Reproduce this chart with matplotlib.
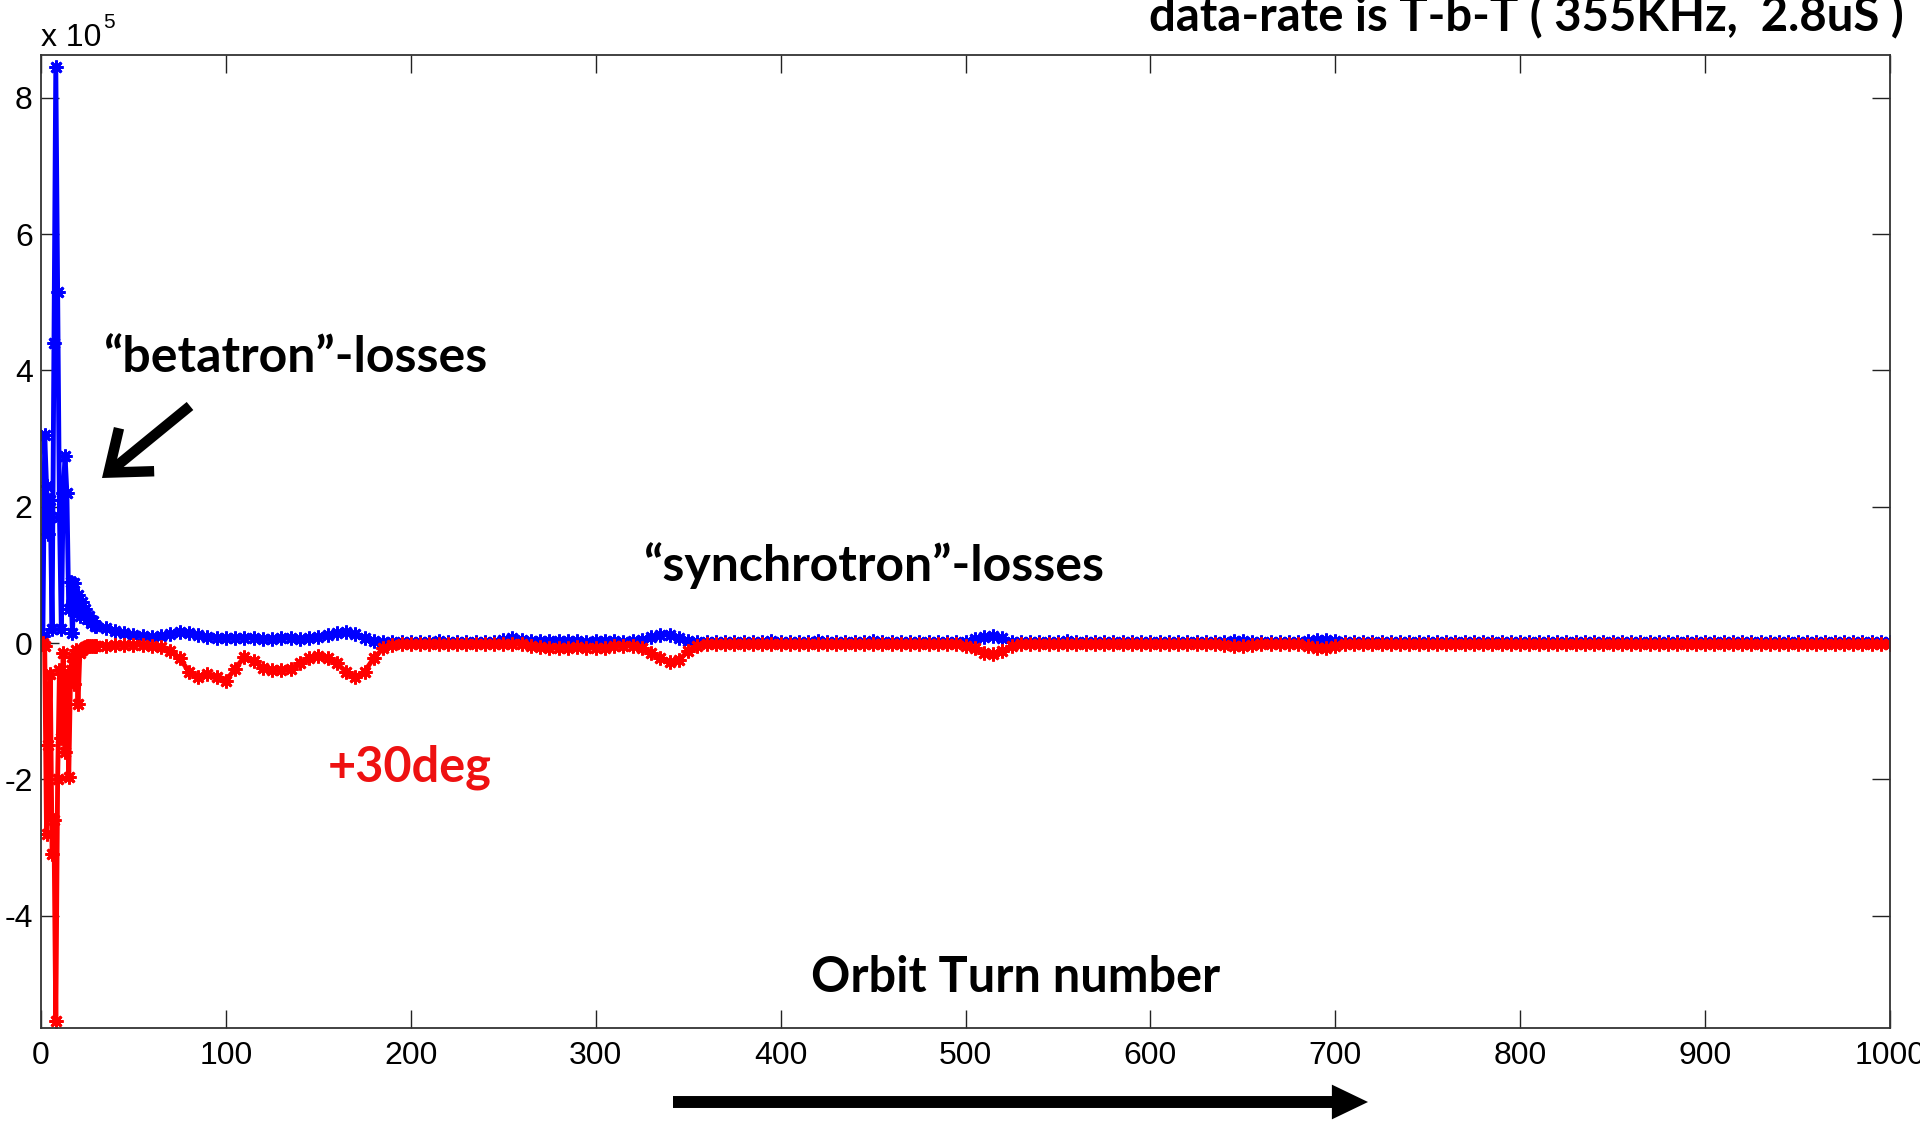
import numpy as np
import matplotlib
matplotlib.use("Agg")
import matplotlib.pyplot as plt
from matplotlib.patches import FancyArrowPatch

# turn numbers: every turn at the start, then every 5th turn
turns_early = np.arange(1, 31)
turns_late = np.arange(35, 1001, 5)

# losses in units of 1e5
blue_early = [0.10, 3.05, 2.30, 1.60, 2.10, 0.20, 4.40, 8.45, 5.15, 1.85,
              0.20, 2.20, 2.75, 2.20, 0.50, 0.90, 0.15, 0.88, 0.50, 0.70,
              0.40, 0.60, 0.45, 0.50, 0.35, 0.40, 0.30, 0.32, 0.25, 0.25]
red_early = [0.00, -0.05, -2.80, -1.50, -0.45, -3.10, -2.60, -5.55, -2.00, -0.40,
             -1.40, -0.15, -1.60, -0.50, -1.96, -0.40, -0.20, -0.60, -0.10, -0.90,
             -0.15, -0.10, -0.08, -0.06, -0.05, -0.04, -0.04, -0.04, -0.04, -0.04]

blue_late = [0.22, 0.18, 0.14, 0.12, 0.10, 0.09, 0.10, 0.13, 0.16, 0.15,
             0.12, 0.09, 0.07, 0.07, 0.08, 0.08, 0.07, 0.06, 0.06, 0.07,
             0.07, 0.06, 0.07, 0.09, 0.12, 0.15, 0.16, 0.13, 0.08, 0.03,
             0.01, 0.02, 0.02, 0.02, 0.02, 0.02, 0.03, 0.02, 0.02, 0.02,
             0.02, 0.02, 0.02, 0.05, 0.07, 0.05, 0.03, 0.03, 0.03, 0.03,
             0.03, 0.03, 0.02, 0.03, 0.03, 0.03, 0.02, 0.03, 0.05, 0.09,
             0.12, 0.12, 0.08, 0.03, 0.01, 0.02, 0.02, 0.02, 0.02, 0.02,
             0.02, 0.02, 0.03, 0.02, 0.02, 0.02, 0.02, 0.03, 0.02, 0.02,
             0.02, 0.02, 0.02, 0.03, 0.02, 0.02, 0.02, 0.02, 0.02, 0.02,
             0.02, 0.02, 0.02, 0.02, 0.06, 0.09, 0.10, 0.07, 0.02, 0.01,
             0.02, 0.02, 0.02, 0.02, 0.03, 0.02, 0.02, 0.02, 0.02, 0.02,
             0.02, 0.02, 0.02, 0.02, 0.02, 0.02, 0.02, 0.02, 0.02, 0.02,
             0.02, 0.02, 0.03, 0.03, 0.02, 0.02, 0.02, 0.02, 0.02, 0.02,
             0.03, 0.05, 0.05, 0.03, 0.02, 0.02, 0.02, 0.02, 0.02, 0.02,
             0.02, 0.02, 0.02, 0.02, 0.02, 0.02, 0.02, 0.02, 0.02, 0.02,
             0.02, 0.02, 0.02, 0.02, 0.02, 0.02, 0.02, 0.02, 0.02, 0.02,
             0.02, 0.02, 0.02, 0.02, 0.02, 0.02, 0.02, 0.02, 0.02, 0.02,
             0.02, 0.02, 0.02, 0.02, 0.02, 0.02, 0.02, 0.02, 0.02, 0.02,
             0.02, 0.02, 0.02, 0.02, 0.02, 0.02, 0.02, 0.02, 0.02, 0.02,
             0.02, 0.02, 0.02, 0.02]
red_late = [-0.04, -0.03, -0.03, -0.03, -0.03, -0.04, -0.06, -0.12, -0.22, -0.42,
            -0.50, -0.45, -0.50, -0.55, -0.38, -0.20, -0.26, -0.36, -0.40, -0.40,
            -0.38, -0.30, -0.22, -0.19, -0.22, -0.30, -0.42, -0.50, -0.42, -0.22,
            -0.08, -0.03, -0.02, -0.02, -0.02, -0.02, -0.02, -0.02, -0.02, -0.02,
            -0.02, -0.02, -0.02, -0.02, -0.02, -0.02, -0.04, -0.06, -0.07, -0.08,
            -0.07, -0.06, -0.07, -0.08, -0.07, -0.05, -0.04, -0.05, -0.08, -0.14,
            -0.22, -0.28, -0.25, -0.12, -0.04, -0.02, -0.02, -0.02, -0.02, -0.02,
            -0.02, -0.02, -0.02, -0.02, -0.02, -0.02, -0.02, -0.02, -0.02, -0.02,
            -0.02, -0.02, -0.02, -0.02, -0.02, -0.02, -0.02, -0.02, -0.02, -0.02,
            -0.02, -0.02, -0.02, -0.04, -0.08, -0.14, -0.16, -0.12, -0.05, -0.02,
            -0.02, -0.02, -0.02, -0.02, -0.02, -0.02, -0.02, -0.02, -0.02, -0.02,
            -0.02, -0.02, -0.02, -0.02, -0.02, -0.02, -0.02, -0.02, -0.02, -0.02,
            -0.02, -0.03, -0.05, -0.05, -0.03, -0.02, -0.02, -0.02, -0.02, -0.02,
            -0.05, -0.08, -0.08, -0.05, -0.02, -0.02, -0.02, -0.02, -0.02, -0.02,
            -0.02, -0.02, -0.02, -0.02, -0.02, -0.02, -0.02, -0.02, -0.02, -0.02,
            -0.02, -0.02, -0.02, -0.02, -0.02, -0.02, -0.02, -0.02, -0.02, -0.02,
            -0.02, -0.02, -0.02, -0.02, -0.02, -0.02, -0.02, -0.02, -0.02, -0.02,
            -0.02, -0.02, -0.02, -0.02, -0.02, -0.02, -0.02, -0.02, -0.02, -0.02,
            -0.02, -0.02, -0.02, -0.02, -0.02, -0.02, -0.02, -0.02, -0.02, -0.02,
            -0.02, -0.02, -0.02, -0.02]

x_ticks = [0, 100, 200, 300, 400, 500, 600, 700, 800, 900, 1000]
y_ticks = [-4, -2, 0, 2, 4, 6, 8]

turns = np.concatenate([turns_early, turns_late])
blue = np.array(blue_early + blue_late) * 1e5
red = np.array(red_early + red_late) * 1e5

fig = plt.figure(figsize=(19.2, 11.21), dpi=100)
ax = fig.add_axes([41 / 1920, 1 - 1028 / 1121, 1849 / 1920, (1028 - 55) / 1121])

star = (8, 2, 0)
ax.plot(turns, blue, color='#0000ff', lw=3.5, marker=star, ms=10, mew=2)
ax.plot(turns, red, color='#ff0000', lw=3.5, marker=star, ms=10, mew=2)

ax.set_xlim(0, 1000)
ax.set_ylim(-5.65e5, 8.63e5)
ax.set_xticks(x_ticks)
ax.set_yticks([v * 1e5 for v in y_ticks])
ax.set_xticklabels([str(v) for v in x_ticks])
ax.set_yticklabels([str(v) for v in y_ticks])
ax.tick_params(direction='in', length=13, width=1, top=True, right=True,
               labelsize=23, color='#222222')
ax.tick_params(axis='x', pad=9)
ax.tick_params(axis='y', pad=6)
for lbl in ax.get_xticklabels() + ax.get_yticklabels():
    lbl.set_family('Liberation Sans')
for s in ax.spines.values():
    s.set_color('#333333')
    s.set_linewidth(1.3)

# exponent label like matlab
ax.text(0.0, 1.002, 'x 10', transform=ax.transAxes, ha='left', va='bottom',
        fontsize=23, family='Liberation Sans')
ax.text(0.0335, 1.024, '5', transform=ax.transAxes, ha='left', va='bottom',
        fontsize=15, family='Liberation Sans')

bold = dict(family=['Lato', 'DejaVu Sans'], fontweight='bold')
fig.text(1904 / 1920, 1 - 31 / 1121, 'data-rate is T-b-T ( 355KHz,  2.8uS )',
         ha='right', va='baseline', fontsize=34, **bold)
fig.text(103 / 1920, 1 - 358 / 1121, '\u201cbetatron\u201d-losses',
         ha='left', va='center', fontsize=36, **bold)
fig.text(643 / 1920, 1 - 566 / 1121, '\u201csynchrotron\u201d-losses',
         ha='left', va='center', fontsize=36, **bold)
fig.text(328 / 1920, 1 - 767 / 1121, '+30deg', color='#ee1111',
         ha='left', va='center', fontsize=35, **bold)
fig.text(1016 / 1920, 1 - 977 / 1121, 'Orbit Turn number',
         ha='center', va='center', fontsize=35, **bold)

# arrows
a1 = FancyArrowPatch((190 / 1920, 1 - 406 / 1121), (102 / 1920, 1 - 478 / 1121),
                     transform=fig.transFigure, arrowstyle='->,head_length=2.6,head_width=2.0',
                     mutation_scale=10, lw=7.5, color='black', shrinkA=0, shrinkB=0,
                     joinstyle='miter', capstyle='butt')
fig.patches.append(a1)
a2 = FancyArrowPatch((673 / 1920, 1 - 1102 / 1121), (1368 / 1920, 1 - 1102 / 1121),
                     transform=fig.transFigure,
                     arrowstyle='simple,head_length=26,head_width=25,tail_width=8.6',
                     mutation_scale=1, lw=0, color='black', shrinkA=0, shrinkB=0)
fig.patches.append(a2)

fig.savefig('out.png', dpi=100, facecolor='white')
